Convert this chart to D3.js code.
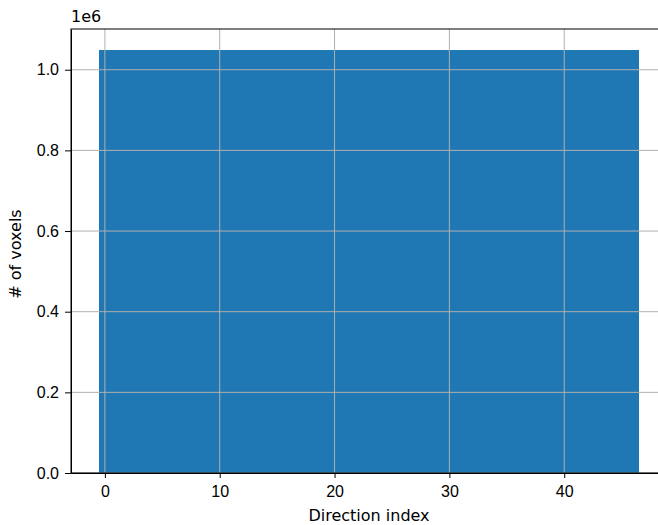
<!DOCTYPE html>
<html>
<head>
<meta charset="utf-8">
<script src="https://cdn.jsdelivr.net/npm/d3@7"></script>
<style>
  body { margin: 0; background: #fff; }
  svg { display: block; font-family: "DejaVu Sans", sans-serif; }
  .axis text { font-size: 16px; fill: #000; }
  .axis path, .axis line { stroke: #000; }
</style>
</head>
<body>
<div id="chart"></div>
<script>
// direction indices 0..46
var directions = [0,1,2,3,4,5,6,7,8,9,10,11,12,13,14,15,16,17,18,19,20,21,22,23,24,25,26,27,28,29,30,31,32,33,34,35,36,37,38,39,40,41,42,43,44,45,46];
// voxel count per direction (all bars equal height)
var voxelCounts = [1048576,1048576,1048576,1048576,1048576,1048576,1048576,1048576,1048576,1048576,
                   1048576,1048576,1048576,1048576,1048576,1048576,1048576,1048576,1048576,1048576,
                   1048576,1048576,1048576,1048576,1048576,1048576,1048576,1048576,1048576,1048576,
                   1048576,1048576,1048576,1048576,1048576,1048576,1048576,1048576,1048576,1048576,
                   1048576,1048576,1048576,1048576,1048576,1048576,1048576];
var xTicks = [0, 10, 20, 30, 40];
var yTicks = [0, 200000, 400000, 600000, 800000, 1000000];

var barColor = "#1f77b4";
var gridColor = "#b0b0b0";

// plot area (right edge runs past the window, like the reference)
var margin = { top: 29, left: 71 };
var plotW = 596, plotH = 444;

var svg = d3.select("#chart").append("svg")
    .attr("width", 658)
    .attr("height", 525);

var g = svg.append("g")
    .attr("transform", "translate(" + margin.left + "," + margin.top + ")");

var xScale = d3.scaleLinear()
    .domain([-2.95, 48.95])
    .range([0, plotW]);

var yScale = d3.scaleLinear()
    .domain([0, 1048576 * 1.05])
    .range([plotH, 0]);

// bars, width 1
g.selectAll("rect.bar")
    .data(directions)
    .enter()
    .append("rect")
    .attr("class", "bar")
    .attr("x", function(d) { return xScale(d - 0.5); })
    .attr("width", function(d) { return xScale(d + 0.5) - xScale(d - 0.5); })
    .attr("y", function(d, i) { return yScale(voxelCounts[i]); })
    .attr("height", function(d, i) { return plotH - yScale(voxelCounts[i]); })
    .attr("fill", barColor)
    .attr("shape-rendering", "crispEdges");

// grid on top of bars
g.append("g")
    .selectAll("line")
    .data(xTicks)
    .enter()
    .append("line")
    .attr("x1", function(d) { return xScale(d); })
    .attr("x2", function(d) { return xScale(d); })
    .attr("y1", 0)
    .attr("y2", plotH)
    .attr("stroke", gridColor)
    .attr("stroke-width", 1);

g.append("g")
    .selectAll("line")
    .data(yTicks)
    .enter()
    .append("line")
    .attr("x1", 0)
    .attr("x2", plotW)
    .attr("y1", function(d) { return yScale(d); })
    .attr("y2", function(d) { return yScale(d); })
    .attr("stroke", gridColor)
    .attr("stroke-width", 1);

// axes
g.append("g")
    .attr("class", "axis")
    .attr("transform", "translate(0," + plotH + ")")
    .call(d3.axisBottom(xScale)
        .tickValues(xTicks)
        .tickSize(5)
        .tickPadding(8)
        .tickSizeOuter(0));

g.append("g")
    .attr("class", "axis")
    .call(d3.axisLeft(yScale)
        .tickValues(yTicks)
        .tickSize(6)
        .tickPadding(6)
        .tickSizeOuter(0)
        .tickFormat(function(d) { return (d / 1e6).toFixed(1); }));

// frame
g.append("rect")
    .attr("x", 0)
    .attr("y", 0)
    .attr("width", plotW)
    .attr("height", plotH)
    .attr("fill", "none")
    .attr("stroke", "#000")
    .attr("stroke-width", 1);

// offset text and labels
svg.append("text")
    .attr("x", margin.left)
    .attr("y", 22)
    .style("font-size", "16px")
    .text("1e6");

svg.append("text")
    .attr("x", margin.left + 298)
    .attr("y", 521)
    .attr("text-anchor", "middle")
    .style("font-size", "16px")
    .text("Direction index");

svg.append("text")
    .attr("transform", "translate(21," + (margin.top + plotH / 2 + 3) + ") rotate(-90)")
    .attr("text-anchor", "middle")
    .style("font-size", "16px")
    .text("# of voxels");
</script>
</body>
</html>
